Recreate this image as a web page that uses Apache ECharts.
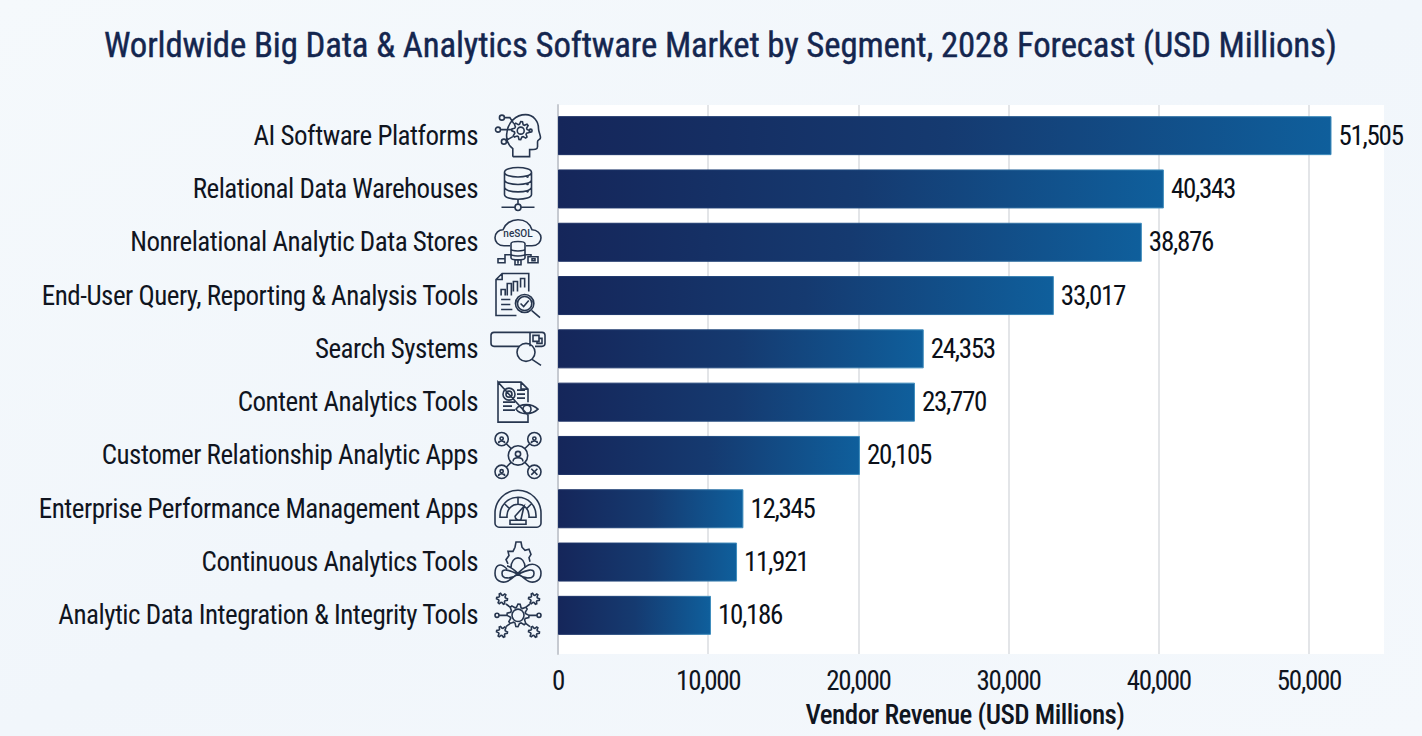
<!DOCTYPE html>
<html><head><meta charset="utf-8">
<style>html,body{margin:0;padding:0;background:#f1f6fb}#c{width:1422px;height:736px}</style>
<script src="https://cdn.jsdelivr.net/npm/echarts@6/dist/echarts.min.js"></script>
</head><body><div id="c"></div>
<script>
const categories = ["AI Software Platforms","Relational Data Warehouses","Nonrelational Analytic Data Stores","End-User Query, Reporting & Analysis Tools","Search Systems","Content Analytics Tools","Customer Relationship Analytic Apps","Enterprise Performance Management Apps","Continuous Analytics Tools","Analytic Data Integration & Integrity Tools"];
const revenue = [51505,40343,38876,33017,24353,23770,20105,12345,11921,10186];
const titleText = "Worldwide Big Data & Analytics Software Market by Segment, 2028 Forecast (USD Millions)";
const axisName = "Vendor Revenue (USD Millions)";

const NARROW = '"Roboto Condensed","Liberation Sans Narrow","Liberation Sans",sans-serif';
const circ=(x,y,r)=>`M${x-r} ${y}a${r} ${r} 0 1 0 ${2*r} 0a${r} ${r} 0 1 0 ${-2*r} 0Z`;
const gear=(x,y,r,n)=>{let s='';const t=Math.max(2,r*0.28);for(let i=0;i<n*4;i++){const a=i/(n*4)*Math.PI*2,R=(i%4<2)?r:r-t;s+=(i?'L':'M')+(x+R*Math.cos(a)).toFixed(2)+' '+(y+R*Math.sin(a)).toFixed(2);}return s+'Z';};
const person=(x,y,r)=>circ(x,y-r*0.3,r*0.32)+`M${x-r*0.6} ${y+r*0.6}C${x-r*0.6} ${y},${x+r*0.6} ${y},${x+r*0.6} ${y+r*0.6}`;
const icons=[
 {w:45,h:42,d:`M17 42V34C12 30 10 24 11 18C12 8 20 0 30 0C38 0 43 7 43 14C43 17 45 20 45 23C45 25 42 25 42 27V32C42 35 39 35 34 35V42H17`+gear(25,16,9,8)+circ(25,16,3.5)+circ(35,16,1.5)+circ(6,3,2.5)+circ(2,15,2.5)+circ(8,27,2.5)+`M8.5 3H14L18 9M4.5 15H16M10 26L17 22`},
 {w:33,h:43,d:`M3 6C3 0 30 0 30 6V27C30 33 3 33 3 27ZM3 6C3 12 30 12 30 6M3 13C3 19 30 19 30 13M3 20C3 26 30 26 30 20M16.5 32V36M0 39H13M20 39H33`+circ(16.5,39,3)+circ(26,10,.6)+circ(26,17,.6)+circ(26,24,.6)},
 {w:46,h:45,d:`M15 26H9C3 26 0 22 0 18C0 13 4 10 8 10C10 4 16 0 23 0C30 0 35 4 37 10C42 10 46 14 46 18C46 22 43 26 37 26H31M16 24C16 21 30 21 30 24V38C30 41 16 41 16 38ZM16 29C16 32 30 32 30 29M16 34C16 37 30 37 30 34M23 40V44M20 40H26V45H20ZM16 35H10V39M3 39H10V43H3ZM30 35H36V37M33 37H43V43H33ZM37 39H40V41H37Z`},
 {w:44,h:44,d:`M20 42H0V6L6 0H32V18M6 0V6H0M5 36H16M5 31H14M5 26H14M5 22V16H9V22M11 22V10H15V22M17 18V8H21V18M24 14V5H28V14`+circ(28,30,9)+circ(28,30,7)+`M24 30L27 33L32 27M35 37L43 44`},
 {w:54,h:33,d:`M28 14H3C1 14 0 13 0 11V3C0 1 1 0 3 0H51C53 0 54 1 54 3V11C54 13 53 14 51 14H44M39 0V14M42 3H48V9H42ZM48 6H51V11H46V9`+circ(35,20,9)+`M41 27L50 33`},
 {w:40,h:40,d:`M0 0H23L30 7V20M23 0V7H30M30 33V40H0V0ZM5 20H17M5 24H14M5 28H17M19 8H27M19 12H27M19 16H27`+circ(11,12,6)+circ(11,12,3)+`M18 27C22 21 34 21 40 27C34 33 22 33 18 27Z`+circ(29,27,4)},
 {w:46,h:46,d:circ(23,23,9.5)+person(23,24,8)+circ(7,7,6.5)+person(7,8,5)+circ(39,7,6.5)+person(39,8,5)+circ(7,39,6.5)+person(7,40,5)+circ(39,39,6.5)+`M36 36L42 42M42 36L36 42M12 12L16 16M34 12L30 16M12 34L16 30M34 34L30 30`},
 {w:46,h:37,d:`M0 23A23 23 0 0 1 46 23V33C46 35 44 37 42 37H4C2 37 0 35 0 33ZM5 25A18 18 0 0 1 41 25V27H34V25A11 11 0 0 0 12 25V27H5ZM10 14L15 19M23 7V14M36 14L31 19M20 26L29 16L26 29C24 31 20 29 20 26ZM15 30H31V34H15Z`},
 {w:46,h:40,d:`M12 26C4 18 0 24 0 30C0 37 6 40 12 38C18 36 28 24 34 22C40 20 46 24 46 30C46 37 40 40 34 38C28 36 18 24 12 23M7 30C7 25 14 27 23 31C16 36 7 36 7 30ZM39 30C39 25 32 27 23 31C30 36 39 36 39 30ZM13 21L11 17L14 13L13 9L18 9L20 5L21 0H26L27 5L30 8L34 7L36 12L34 15L35 19`+`M16 25C16 12 30 12 30 25`},
 {w:46,h:44,d:gear(23,22,11,8)+circ(23,22,6)+gear(7,6,5.5,6)+gear(39,6,5.5,6)+gear(7,38,5.5,6)+gear(39,38,5.5,6)+circ(2,22,2)+circ(44,22,2)+`M4 22H12M34 22H42M11 11L15 14M35 11L31 14M11 33L15 30M35 33L31 30`}
];

const chart = echarts.init(document.getElementById('c'),null,{renderer:'svg'});
const barColor = {type:'linear',x:0,y:0,x2:1,y2:0,colorStops:[{offset:0,color:'#15265a'},{offset:.5,color:'#153a70'},{offset:1,color:'#0f5f9c'}]};
const barEdge = {type:'linear',x:0,y:0,x2:1,y2:0,colorStops:[{offset:0,color:'#1c2f63'},{offset:.5,color:'#1f4a80'},{offset:1,color:'#3f8dbd'}]};
const ICON_OFFSET = 40;
const option = {
 animation:false,
 backgroundColor:{type:'linear',x:0,y:0,x2:1,y2:1,colorStops:[{offset:0,color:'#f5f9fc'},{offset:.5,color:'#f1f6fb'},{offset:1,color:'#f4f8fc'}]},
 title:{text:titleText,left:104,top:27,padding:0,textStyle:{fontFamily:'"Roboto Condensed",Roboto',fontWeight:400,fontSize:34.8,color:'#14264f',textBorderColor:'#14264f',textBorderWidth:0.4}},
 grid:[
  {left:558,right:38,top:105,height:549,show:true,backgroundColor:'#ffffff',borderWidth:0},
  {left:558,right:38,top:109,height:533}
 ],
 xAxis:[
  {gridIndex:0,type:'value',min:0,max:55000,interval:10000,
   axisLine:{show:false},axisTick:{show:false},
   axisLabel:{showMaxLabel:false,margin:13,fontFamily:NARROW,fontSize:27,color:'#10151f',formatter:v=>v.toLocaleString('en-US')},
   splitLine:{showMaxLine:false,lineStyle:{color:'#dadce1',width:1.5}},
   name:axisName,nameLocation:'middle',nameGap:47,nameTextStyle:{fontFamily:NARROW,fontWeight:500,fontSize:27,color:'#10151f',padding:[0,12,0,0]}},
  {gridIndex:1,type:'value',min:0,max:55000,show:false,splitLine:{show:false}}
 ],
 yAxis:[
  {gridIndex:0,type:'category',data:[''],axisTick:{show:false},axisLabel:{show:false},axisLine:{lineStyle:{color:'#c6cad1',width:2}}},
  {gridIndex:1,type:'category',data:categories,inverse:true,axisLine:{show:false},axisTick:{show:false},
   axisLabel:{margin:80,padding:[2,0,0,0],fontFamily:NARROW,fontSize:27,color:'#10151f'}}
 ],
 series:[{type:'bar',xAxisIndex:1,yAxisIndex:1,data:revenue,barWidth:39,
  itemStyle:{color:barColor,borderColor:barEdge,borderWidth:1},
  label:{show:true,position:'right',distance:7,padding:[2,0,0,0],fontFamily:NARROW,fontSize:27,color:'#0b1019',formatter:p=>p.value.toLocaleString('en-US')}},
  {type:'custom',xAxisIndex:1,yAxisIndex:1,silent:true,data:categories.map((c,i)=>[0,i]),
   renderItem:(params,api)=>{
    const i=params.dataIndex,ic=icons[i],p=api.coord([0,i]),cx=p[0]-ICON_OFFSET,cy=p[1];
    const children=[{type:'path',shape:{pathData:ic.d,layout:'cover',x:cx-ic.w/2,y:cy-ic.h/2,width:ic.w,height:ic.h},style:{fill:'none',stroke:'#27364f',lineWidth:1.6}}];
    if(i===2) children.push({type:'text',x:cx,y:cy-9,style:{text:'neSOL',font:'500 10px Roboto',fill:'#27364f',align:'center',verticalAlign:'middle'}});
    return {type:'group',children};
   }}]
};
chart.setOption(option);
function tighten(){
 document.querySelectorAll('#c svg text').forEach(t=>{
  const s=t.textContent;
  t.style.letterSpacing = s===titleText ? '-0.15px' : s==='neSOL' ? '0' : /^[\d,]+$/.test(s) ? '-1.3px' : '-0.5px';
 });
}
chart.on('finished',tighten);
tighten();
requestAnimationFrame(tighten);
</script></body></html>
